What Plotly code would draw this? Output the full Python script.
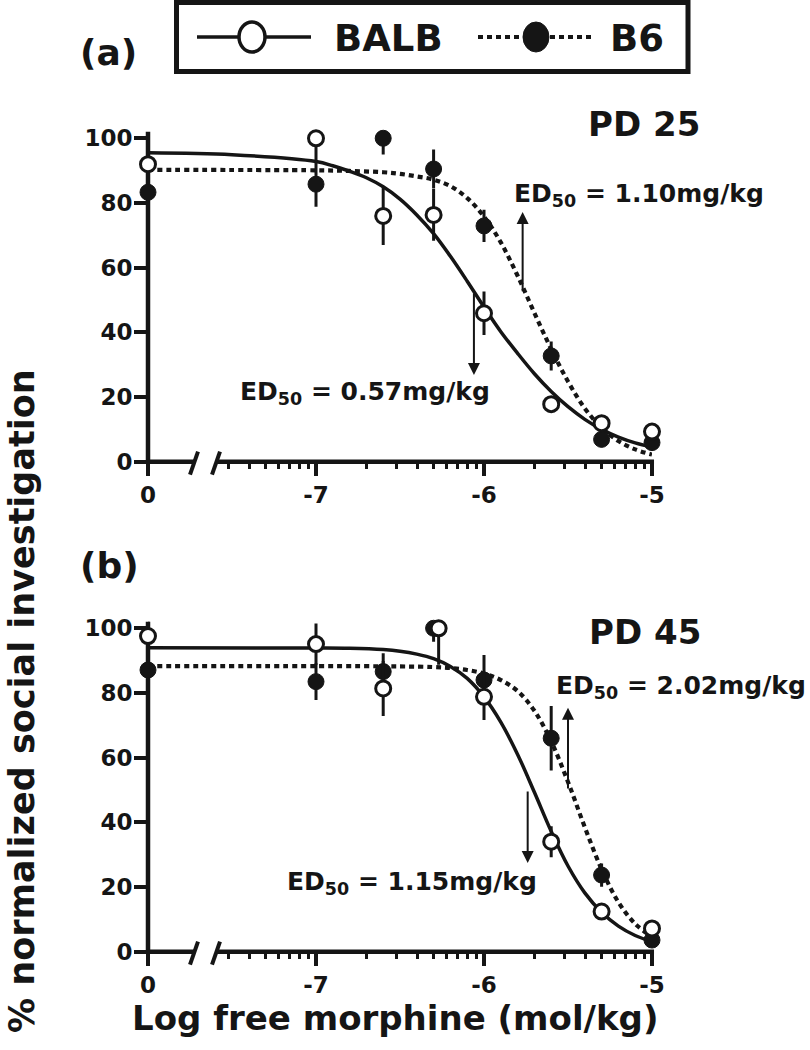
import numpy as np
import plotly.graph_objects as go

# ---------------- data ----------------
# x positions: log dose (mol/kg); the vehicle ("0") is plotted at the -8 position
tick_vals = [-8, -7, -6, -5]
tick_text = ["0", "-7", "-6", "-5"]

dose_a = [-8, -7, -6.6, -6.3, -6.0, -5.6, -5.3, -5.0]
balb_a = [92.0, 100.0, 76.0, 76.3, 45.9, 17.8, 11.9, 9.3]
balb_a_err = [2, 7, 9, 8, 6.7, 2, 2, 2]
b6_a = [83.3, 85.8, 100.0, 90.5, 72.9, 32.7, 6.9, 5.9]
b6_a_err = [2, 7, 5, 6, 5, 4.5, 2, 2]

dose_b_balb = [-8, -7, -6.6, -6.27, -6.0, -5.6, -5.3, -5.0]
dose_b_b6 = [-8, -7, -6.6, -6.3, -6.0, -5.6, -5.3, -5.0]
balb_b = [97.6, 95.1, 81.4, 100.0, 78.8, 34.0, 12.4, 7.2]
balb_b_err = [10, 6.4, 8.5, 11.3, 7.2, 4.8, 2, 2]
b6_b = [87.1, 83.5, 86.6, 100.0, 84.0, 66.0, 23.7, 3.6]
b6_b_err = [2, 5.7, 5.7, 4.2, 7.7, 10, 3.6, 2]

# fitted curves
fit_a_balb_x = [-8, -7.5, -7.0, -6.9, -6.8, -6.7, -6.6, -6.5, -6.4, -6.3, -6.2, -6.1, -6.0,
                -5.9, -5.8, -5.7, -5.6, -5.5, -5.4, -5.3, -5.2, -5.1, -5.0]
fit_a_balb_y = [95.5, 94.9, 92.8, 91.5, 89.8, 87.8, 85.0, 81.2, 76.3, 70.5, 63.5, 55.8, 47.8,
                40.2, 33.5, 27.2, 21.7, 17.0, 13.1, 10.0, 7.6, 5.8, 4.5]
fit_a_b6_x = [-8, -7.0, -6.8, -6.6, -6.5, -6.4, -6.3, -6.2, -6.1, -6.0, -5.9, -5.8, -5.7,
              -5.6, -5.5, -5.4, -5.3, -5.2, -5.1, -5.0]
fit_a_b6_y = [90.2, 90.1, 89.9, 89.5, 89.0, 88.2, 87.2, 85.2, 81.5, 75.8, 67.8, 57.5, 46.0,
              34.8, 24.8, 16.5, 10.5, 6.4, 3.8, 2.2]
fit_b_balb_x = [-8, -7.0, -6.8, -6.6, -6.5, -6.4, -6.3, -6.2, -6.1, -6.0, -5.9, -5.8, -5.7,
                -5.6, -5.5, -5.4, -5.3, -5.2, -5.1, -5.0]
fit_b_balb_y = [94.0, 93.9, 93.8, 93.4, 92.9, 92.0, 90.6, 88.2, 84.5, 78.8, 71.0, 61.0, 49.3,
                37.2, 26.5, 18.2, 12.2, 7.9, 5.0, 3.1]
fit_b_b6_x = [-8, -7.0, -6.5, -6.3, -6.2, -6.1, -6.0, -5.9, -5.8, -5.7, -5.6, -5.5, -5.4,
              -5.3, -5.2, -5.1, -5.0]
fit_b_b6_y = [88.3, 88.3, 88.2, 88.0, 87.7, 87.1, 86.0, 84.0, 80.6, 74.5, 65.0, 52.5, 38.5,
              25.5, 15.3, 8.6, 4.6]

# ED50 markers: (x, tail y, head y)
ed50_a = {"BALB": (-6.06, 52.5, 26.8), "B6": (-5.77, 52.2, 77.2)}
ed50_b = {"BALB": (-5.74, 50.0, 27.4), "B6": (-5.50, 50.0, 75.4)}

# ---------------- styling ----------------
INK = "#151515"
FONT = "DejaVu Sans"
W, H = 810, 1050
XR = [-8, -5]
YR = [0, 102]

# minor ticks (log decades, 2..9 x 10^n), skipping the axis break
minor_vals = [d + np.log10(k) for d in (-8, -7, -6) for k in range(2, 10)]
minor_vals = [v for v in minor_vals if v > -7.6]

fig = go.Figure()


def add_panel(xa, ya, fx_balb, fy_balb, fx_b6, fy_b6,
              xb, yb, eb, x6, y6, e6):
    fig.add_trace(go.Scatter(x=fx_b6, y=fy_b6, mode="lines", xaxis=xa, yaxis=ya,
                             line=dict(color=INK, width=4.2, dash="5px,4px", shape="spline"),
                             hoverinfo="skip", showlegend=False))
    fig.add_trace(go.Scatter(x=fx_balb, y=fy_balb, mode="lines", xaxis=xa, yaxis=ya,
                             line=dict(color=INK, width=3.5, shape="spline"),
                             hoverinfo="skip", showlegend=False))
    fig.add_trace(go.Scatter(x=x6, y=y6, mode="markers", xaxis=xa, yaxis=ya,
                             name="B6", cliponaxis=False,
                             marker=dict(symbol="circle", size=16, color=INK,
                                         line=dict(color=INK, width=1)),
                             error_y=dict(type="data", array=e6, color=INK,
                                          thickness=3, width=0),
                             showlegend=False))
    fig.add_trace(go.Scatter(x=xb, y=yb, mode="markers", xaxis=xa, yaxis=ya,
                             name="BALB", cliponaxis=False,
                             marker=dict(symbol="circle", size=15, color="white",
                                         line=dict(color=INK, width=3)),
                             error_y=dict(type="data", array=eb, color=INK,
                                          thickness=3, width=0),
                             showlegend=False))


add_panel("x", "y", fit_a_balb_x, fit_a_balb_y, fit_a_b6_x, fit_a_b6_y,
          dose_a, balb_a, balb_a_err, dose_a, b6_a, b6_a_err)
add_panel("x2", "y2", fit_b_balb_x, fit_b_balb_y, fit_b_b6_x, fit_b_b6_y,
          dose_b_balb, balb_b, balb_b_err, dose_b_b6, b6_b, b6_b_err)

x_dom = [148 / W, 652 / W]
ya_dom = [1 - 461.7 / H, 1 - 131.8 / H]
yb_dom = [1 - 951.7 / H, 1 - 621.8 / H]

tickfont = dict(family=FONT, size=23, color=INK, weight="bold")


def xaxis_cfg(anchor):
    return dict(domain=x_dom, range=XR, anchor=anchor, showline=False, showgrid=False,
                zeroline=False, tickmode="array", tickvals=tick_vals, ticktext=tick_text,
                ticks="outside", ticklen=13, tickwidth=4, tickcolor=INK,
                ticklabelstandoff=0, tickfont=tickfont, automargin=False,
                minor=dict(tickmode="array", tickvals=minor_vals, ticks="outside",
                           ticklen=6, tickwidth=3, tickcolor=INK, showgrid=False))


def yaxis_cfg(anchor, dom):
    return dict(domain=dom, range=YR, anchor=anchor, showline=False, showgrid=False,
                zeroline=False, tickmode="array", tickvals=[0, 20, 40, 60, 80, 100],
                ticks="outside", ticklen=13, tickwidth=4, tickcolor=INK,
                ticklabelstandoff=-3, tickfont=tickfont, automargin=False)


fig.update_layout(
    width=W, height=H, margin=dict(l=0, r=0, t=0, b=0, autoexpand=False),
    paper_bgcolor="white", plot_bgcolor="rgba(0,0,0,0)",
    font=dict(family=FONT, size=23, color=INK, weight="bold"),
    showlegend=False,
    xaxis=xaxis_cfg("y"), yaxis=yaxis_cfg("x", ya_dom),
    xaxis2=xaxis_cfg("y2"), yaxis2=yaxis_cfg("x2", yb_dom),
)

shapes = []
ann = []
span = 652 - 148
for xr, yr in (("x domain", "y domain"), ("x2 domain", "y2 domain")):
    # y-axis line
    shapes.append(dict(type="line", xref=xr, yref=yr, x0=0, x1=0, y0=-0.007, y1=1,
                       line=dict(color=INK, width=4.5), layer="below"))
    # broken x-axis line
    shapes.append(dict(type="line", xref=xr, yref=yr, x0=-0.004, x1=(195 - 148) / span,
                       y0=0, y1=0, line=dict(color=INK, width=4.5), layer="below"))
    shapes.append(dict(type="line", xref=xr, yref=yr, x0=(216 - 148) / span, x1=1.004,
                       y0=0, y1=0, line=dict(color=INK, width=4.5), layer="below"))
    # break slashes
    for sx in (190, 212):
        shapes.append(dict(type="line", xref=xr, yref=yr,
                           x0=(sx - 148) / span, x1=(sx + 8 - 148) / span,
                           y0=-13 / 330, y1=10 / 330,
                           line=dict(color=INK, width=4), layer="below"))

# ED50 arrows (tail on the curve, head towards the label)
for (xa, ya, ed) in (("x", "y", ed50_a), ("x2", "y2", ed50_b)):
    for k, (ex, tail, head) in ed.items():
        ann.append(dict(x=ex, y=head, ax=ex, ay=tail, xref=xa, yref=ya, axref=xa, ayref=ya,
                        text="", showarrow=True, arrowhead=2, arrowsize=1.2, arrowwidth=2,
                        arrowcolor=INK, standoff=0, startstandoff=0))


def px(x):
    return x / W


def py(y):
    return 1 - y / H


ed_font = dict(family=FONT, size=25, color=INK, weight="bold")
big = dict(family=FONT, size=34, color=INK, weight="bold")
ann += [
    dict(x=-5.834, y=82.5, xref="x", yref="y", text="ED<sub>50</sub> = 1.10mg/kg",
         xanchor="left", yanchor="middle", showarrow=False, font=ed_font),
    dict(x=-7.466, y=21.2, xref="x", yref="y", text="ED<sub>50</sub> = 0.57mg/kg",
         xanchor="left", yanchor="middle", showarrow=False, font=ed_font),
    dict(x=-5.585, y=81.8, xref="x2", yref="y2", text="ED<sub>50</sub> = 2.02mg/kg",
         xanchor="left", yanchor="middle", showarrow=False, font=ed_font),
    dict(x=-7.187, y=21.2, xref="x2", yref="y2", text="ED<sub>50</sub> = 1.15mg/kg",
         xanchor="left", yanchor="middle", showarrow=False, font=ed_font),
    dict(x=px(644), y=py(124), xref="paper", yref="paper", text="PD 25", xanchor="center",
         yanchor="middle", showarrow=False, font=big),
    dict(x=px(645), y=py(632), xref="paper", yref="paper", text="PD 45", xanchor="center",
         yanchor="middle", showarrow=False, font=big),
    dict(x=px(108), y=py(52), xref="paper", yref="paper", text="(a)",
         showarrow=False, xanchor="center", yanchor="middle",
         font=dict(family=FONT, size=36, color=INK, weight="bold")),
    dict(x=px(109), y=py(565), xref="paper", yref="paper", text="(b)",
         showarrow=False, xanchor="center", yanchor="middle",
         font=dict(family=FONT, size=36, color=INK, weight="bold")),
    dict(x=px(395), y=py(1018), xref="paper", yref="paper",
         text="Log free morphine (mol/kg)", showarrow=False,
         xanchor="center", yanchor="middle", font=big),
    dict(x=px(22), y=py(701), xref="paper", yref="paper",
         text="% normalized social investigation", showarrow=False, textangle=-90,
         xanchor="center", yanchor="middle",
         font=dict(family=FONT, size=35, color=INK, weight="bold")),
]

# ---------------- legend box (drawn) ----------------
shapes.append(dict(type="rect", xref="paper", yref="paper", x0=px(176.5), x1=px(688),
                   y0=py(71.5), y1=py(2.5), line=dict(color=INK, width=5),
                   fillcolor="white", layer="above"))
shapes.append(dict(type="line", xref="paper", yref="paper", x0=px(197), x1=px(311),
                   y0=py(37), y1=py(37), line=dict(color=INK, width=3.5), layer="above"))
shapes.append(dict(type="circle", xref="paper", yref="paper", xsizemode="pixel",
                   ysizemode="pixel", xanchor=px(252), yanchor=py(37),
                   x0=-13, x1=13, y0=-15, y1=15, fillcolor="white",
                   line=dict(color=INK, width=3.5), layer="above"))
shapes.append(dict(type="line", xref="paper", yref="paper", x0=px(478), x1=px(593),
                   y0=py(37), y1=py(37), line=dict(color=INK, width=4.2, dash="5px,4px"),
                   layer="above"))
shapes.append(dict(type="circle", xref="paper", yref="paper", xsizemode="pixel",
                   ysizemode="pixel", xanchor=px(536), yanchor=py(37),
                   x0=-13, x1=13, y0=-15, y1=15, fillcolor=INK,
                   line=dict(color=INK, width=1), layer="above"))
leg_font = dict(family=FONT, size=37, color=INK, weight="bold")
ann += [
    dict(x=px(332), y=py(38), xref="paper", yref="paper", text="BALB", showarrow=False,
         xanchor="left", yanchor="middle", font=leg_font),
    dict(x=px(608), y=py(38), xref="paper", yref="paper", text="B6", showarrow=False,
         xanchor="left", yanchor="middle", font=leg_font),
]

fig.update_layout(shapes=shapes, annotations=ann)

# remove the default page margin so the figure sits at the window's top-left corner
post = "document.body.style.margin='0';"
fig.write_html("out.html", post_script=post, config={"displayModeBar": False})
